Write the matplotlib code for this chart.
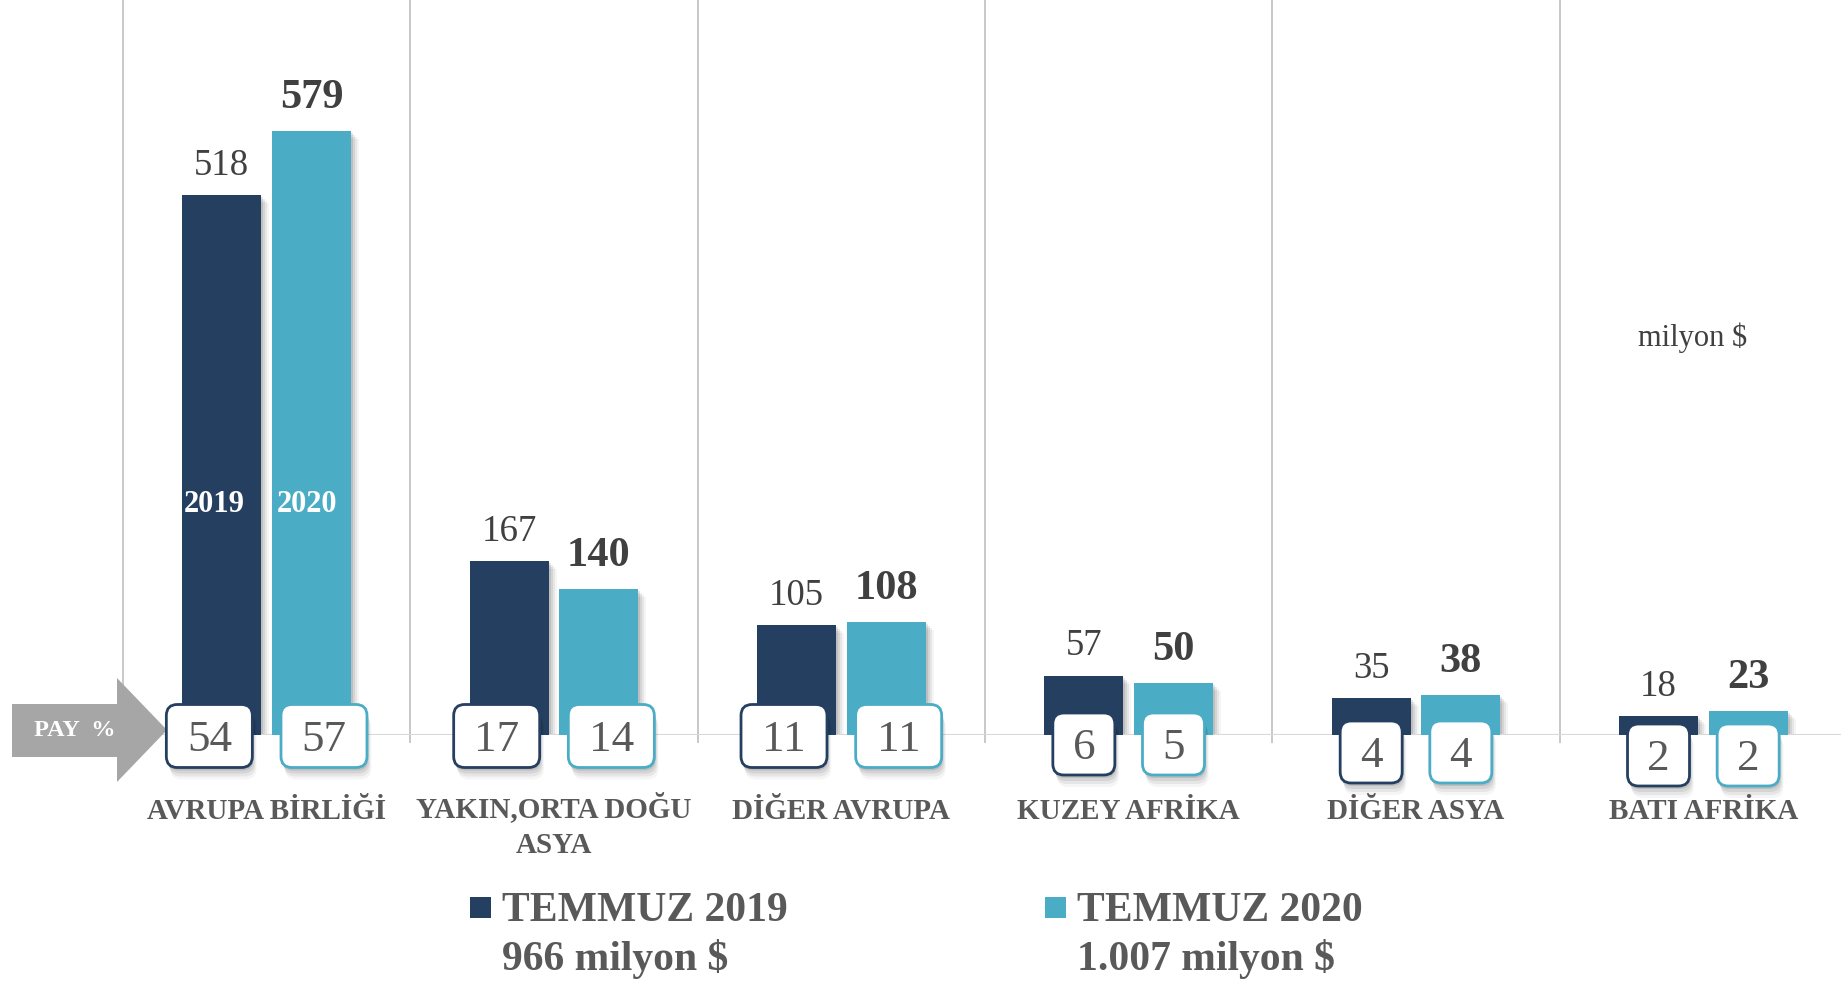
import numpy as np
import matplotlib
matplotlib.use('Agg')
import matplotlib.pyplot as plt
from matplotlib.patches import FancyBboxPatch, Rectangle, Polygon

# Veriler (milyon $ ve pay %)
regions = ['AVRUPA BİRLİĞİ', 'YAKIN,ORTA DOĞU\nASYA', 'DİĞER AVRUPA',
           'KUZEY AFRİKA', 'DİĞER ASYA', 'BATI AFRİKA']
val_2019 = [518, 167, 105, 57, 35, 18]
val_2020 = [579, 140, 108, 50, 38, 23]
pay_2019 = [54, 17, 11, 6, 4, 2]
pay_2020 = [57, 14, 11, 5, 4, 2]
legend_2019 = ['TEMMUZ 2019', '966 milyon $']
legend_2020 = ['TEMMUZ 2020', '1.007 milyon $']
year_tags = ['2019', '2020']

DARK = '#243F60'
LIGHT = '#4BACC6'
GRAY_TXT = '#595959'
VAL_TXT = '#404040'

plt.rcParams['font.family'] = ['Liberation Serif', 'DejaVu Serif']

W, H = 1841, 982
fig = plt.figure(figsize=(W / 100, H / 100), dpi=100)
ax = fig.add_axes([123 / W, 247 / H, 1724 / W, 735 / H])
ax.set_xlim(-0.5, 5.5)
ax.set_ylim(0, 704.6)
ax.axis('off')

x = np.arange(len(regions))
bw = 0.274
off = 0.156
px_x = 1724 / 6.0   # piksel / kategori
px_y = 735 / 704.6  # piksel / birim

# Ayırıcı dikey çizgiler ve taban çizgisi
ax.vlines(np.arange(len(regions) + 1) - 0.5, -8 / px_y, 704.6,
          colors='#BFBFBF', lw=1.2, clip_on=False, zorder=0)
ax.axhline(0, color='#D9D9D9', lw=2.2, zorder=1.5)

# Çubuk gölgeleri
for s, a in ((2, 0.10), (4, 0.08), (6, 0.06), (8, 0.04)):
    for vals, sign in ((val_2019, -1), (val_2020, 1)):
        ax.bar(x + sign * off + s / px_x, np.array(vals) - s / px_y, bw,
               color='black', alpha=a, lw=0, zorder=1)

ax.bar(x - off, val_2019, bw, color=DARK, zorder=2)
ax.bar(x + off, val_2020, bw, color=LIGHT, zorder=2)

# Değer etiketleri
for i in range(len(regions)):
    ax.annotate(str(val_2019[i]), (x[i] - off, val_2019[i]), xytext=(0, 14.5),
                textcoords='offset points', ha='center', va='baseline',
                fontsize=26.5, color=VAL_TXT)
    ax.annotate(str(val_2020[i]), (x[i] + off, val_2020[i]), xytext=(0, 16.5),
                textcoords='offset points', ha='center', va='baseline',
                fontsize=30.5, fontweight='bold', color=VAL_TXT)

# Piksel koordinatlı üst katman
ov = fig.add_axes([0, 0, 1, 1], zorder=5)
ov.set_xlim(0, W)
ov.set_ylim(H, 0)
ov.axis('off')


def to_px(xd, yd):
    dx, dy = ax.transData.transform((xd, yd))
    return dx, H - dy


# PAY % oku
ov.add_patch(Polygon([(12, 704), (117, 704), (117, 678), (167, 730),
                      (117, 782), (117, 757), (12, 757)],
                     closed=True, fc='#A6A6A6', ec='none', zorder=1))
ov.text(75, 731, 'PAY  %', ha='center', va='center', fontsize=17.5,
        fontweight='bold', color='white', zorder=2)

# Pay kutuları
drops = [0, 0, 0, 8, 16, 19]
for i in range(len(regions)):
    for vals, sign, color in ((pay_2019, -1, DARK), (pay_2020, 1, LIGHT)):
        cx, base = to_px(x[i] + sign * off, 0)
        txt = str(vals[i])
        if len(txt) > 1:
            w, h = 86, 63
            cx += sign * 12.5
        else:
            w, h = 62, 62
        cy = base + 1 + drops[i]
        for s, a in ((3, 0.10), (6, 0.08), (9, 0.06), (12, 0.04)):
            ov.add_patch(FancyBboxPatch((cx - w / 2 + s * 0.35, cy - h / 2 + s), w, h,
                                        boxstyle='round,pad=0,rounding_size=11',
                                        fc='black', ec='none', alpha=a, zorder=2))
        ov.add_patch(FancyBboxPatch((cx - w / 2, cy - h / 2), w, h,
                                    boxstyle='round,pad=0,rounding_size=11',
                                    fc='white', ec=color, lw=2, zorder=3))
        ov.text(cx, cy + 15, txt, ha='center', va='baseline', fontsize=32.5,
                color=GRAY_TXT, zorder=4)

# Kategori etiketleri (çok satırlıda baseline son satıra göre)
for i, name in enumerate(regions):
    cx, _ = to_px(x[i], 0)
    n_lines = name.count('\n') + 1
    ov.text(cx, 819 + (n_lines - 1) * 34, name, ha='center', va='baseline',
            fontsize=21, fontweight='bold', color=GRAY_TXT, linespacing=1.45)

# Çubuk içi yıl etiketleri
xl, _ = to_px(x[0] - off - bw / 2, 0)
ov.text(xl + 1, 505, year_tags[0], ha='left', va='center', fontsize=22,
        fontweight='bold', color='white', zorder=4)
xl, _ = to_px(x[0] + off - bw / 2, 0)
ov.text(xl + 5, 505, year_tags[1], ha='left', va='center', fontsize=22,
        fontweight='bold', color='white', zorder=4)

ov.text(1693, 346, 'milyon $', ha='center', va='baseline', fontsize=22,
        color=VAL_TXT)

# Lejant
for lx, color, lines in ((470, DARK, legend_2019), (1045, LIGHT, legend_2020)):
    ov.add_patch(Rectangle((lx, 897), 21, 21, fc=color, ec='none'))
    ov.text(lx + 32, 921, lines[0], ha='left', va='baseline', fontsize=30,
            fontweight='bold', color=GRAY_TXT)
    ov.text(lx + 32, 970, lines[1], ha='left', va='baseline', fontsize=30,
            fontweight='bold', color=GRAY_TXT)

fig.savefig('out.png', dpi=100, facecolor='white')
